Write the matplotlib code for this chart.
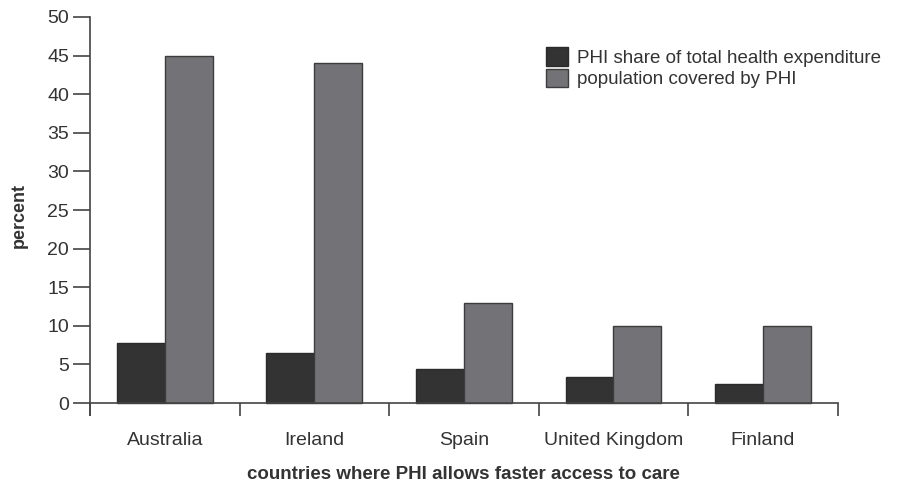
import numpy as np
import matplotlib.pyplot as plt
from matplotlib.ticker import FixedLocator

countries = ["Australia", "Ireland", "Spain", "United Kingdom", "Finland"]
phi_share = [7.8, 6.5, 4.4, 3.4, 2.5]
pop_covered = [45, 44, 13, 10, 10]

plt.rcParams["font.family"] = ["Liberation Sans", "DejaVu Sans"]
text_col = "#333333"

fig = plt.figure(figsize=(8.97, 4.84), dpi=100)
ax = fig.add_axes([0.1003, 0.1426, 0.8336, 0.8223])

x = np.arange(len(countries))
w = 0.32
ax.bar(x - w / 2, phi_share, w, color="#333333", edgecolor="#2a2a2a", linewidth=1,
       label="PHI share of total health expenditure", zorder=2)
ax.bar(x + w / 2, pop_covered, w, color="#737377", edgecolor="#3c3c3c", linewidth=1,
       label="population covered by PHI", zorder=2)

ax.set_xlim(-0.5, len(countries) - 0.5)
ax.set_ylim(-1.55, 50)
ax.set_yticks(np.arange(0, 51, 5))
ax.set_xticks(x)
ax.set_xticklabels(countries)
ax.xaxis.set_minor_locator(FixedLocator(np.arange(-0.5, len(countries), 1.0)))

for s in ["top", "right"]:
    ax.spines[s].set_visible(False)
ax.spines["bottom"].set_position(("data", 0))
for s in ["left", "bottom"]:
    ax.spines[s].set_color("#444444")
    ax.spines[s].set_linewidth(1.2)

ax.tick_params(axis="y", length=12, width=1.2, color="#444444", labelsize=14,
               labelcolor=text_col, pad=3)
ax.tick_params(axis="x", which="major", length=0, labelsize=14, labelcolor=text_col, pad=21)
ax.tick_params(axis="x", which="minor", length=9, width=1.2, color="#444444", direction="out")

ax.set_ylabel("percent", fontsize=13, fontweight="bold", color=text_col, labelpad=14)
ax.set_xlabel("countries where PHI allows faster access to care", fontsize=13.5,
              fontweight="bold", color=text_col, labelpad=12)

ax.legend(loc="upper left", bbox_to_anchor=(546 / 897, 1 - 47 / 484),
          bbox_transform=fig.transFigure, frameon=False, fontsize=13.5, borderpad=0,
          borderaxespad=0, labelcolor=text_col, handlelength=1.15, handleheight=1.15,
          handletextpad=0.5, labelspacing=0.1)

fig.savefig("out.png", dpi=100)
